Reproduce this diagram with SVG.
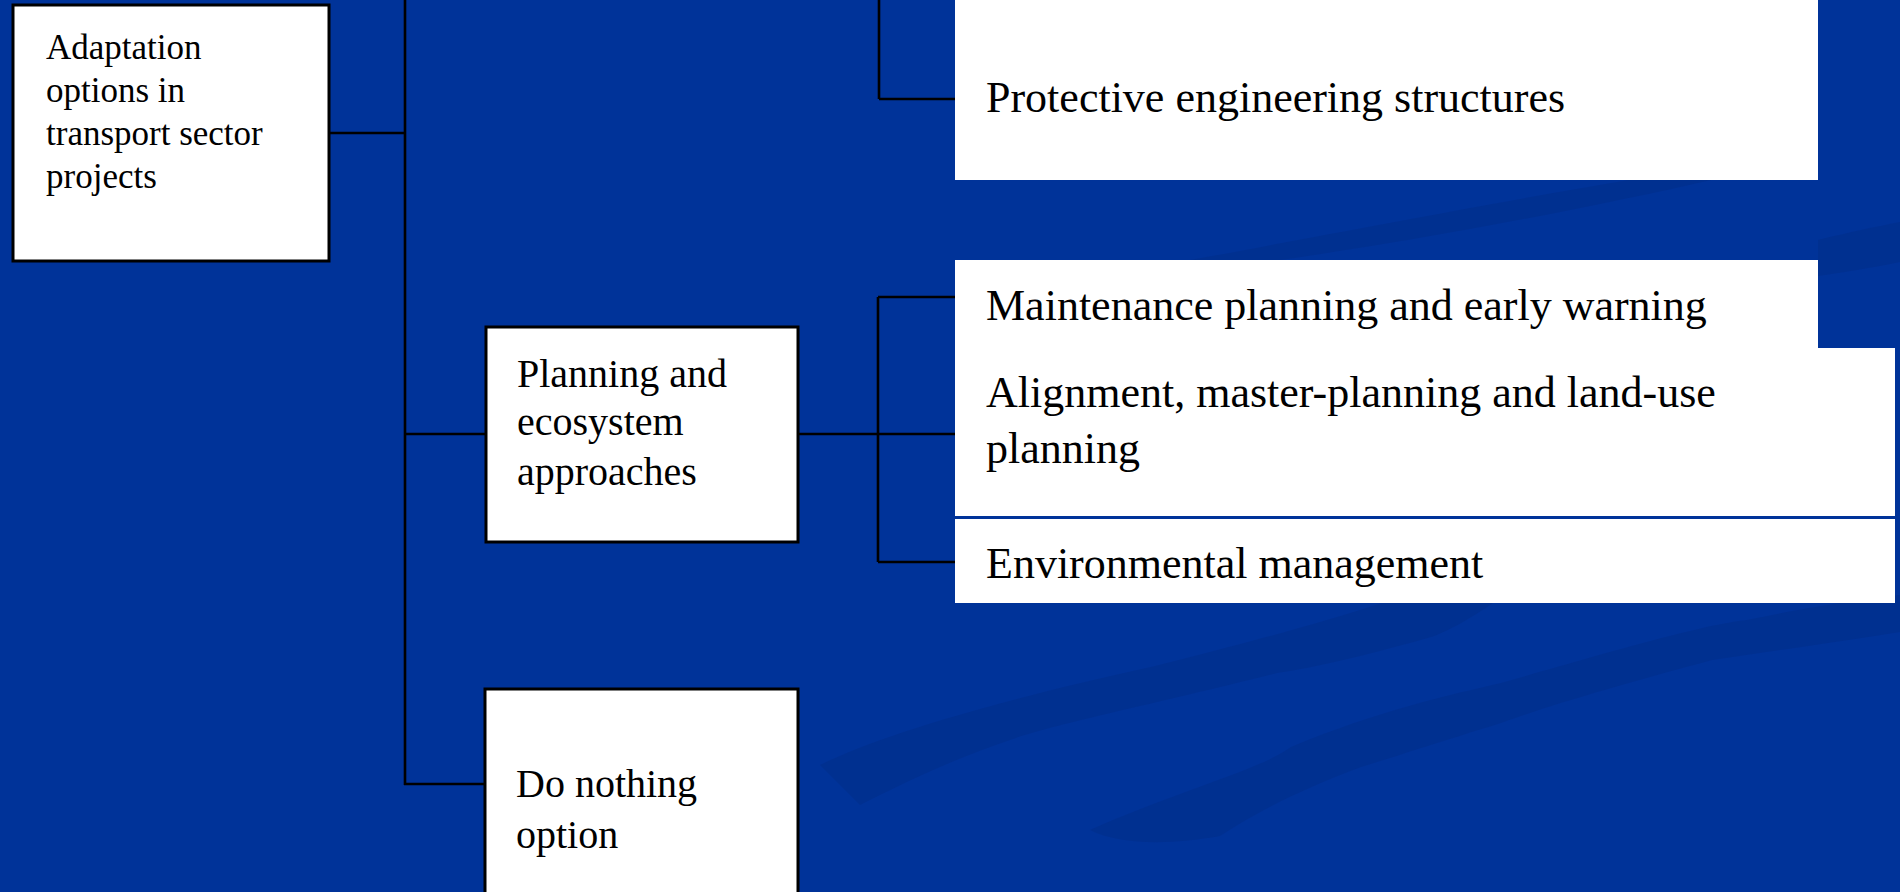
<svg xmlns="http://www.w3.org/2000/svg" width="1900" height="892" viewBox="0 0 1900 892">
<style>
.box{fill:#ffffff;stroke:#000000;stroke-width:3}
.plain{fill:#ffffff;stroke:none}
.t35{font-family:"Liberation Serif","Times New Roman",serif;font-size:35px;fill:#000000}
.t40{font-family:"Liberation Serif","Times New Roman",serif;font-size:40px;fill:#000000}
.t44{font-family:"Liberation Serif","Times New Roman",serif;font-size:44px;fill:#000000}
.conn{stroke:#000000;stroke-width:2.6;fill:none}
.streak{fill:#002d88;opacity:0.5}
</style>
<rect x="0" y="0" width="1900" height="892" fill="#003399"/>
<g id="background-streaks">
<path class="streak" d="M820,765 C880,735 1000,700 1151,667 C1260,640 1350,615 1420,590 L1510,590 C1480,615 1440,635 1431,637 C1350,660 1300,670 1277,673 C1150,705 1050,725 1010,740 C950,760 900,785 860,805 Z"/>
<path class="streak" d="M1090,830 C1180,790 1260,770 1291,747 C1380,710 1450,695 1501,683 C1600,655 1700,625 1747,620 C1820,605 1870,598 1900,595 L1900,632 C1850,640 1780,650 1712,660 C1620,685 1550,705 1501,723 C1430,745 1400,755 1361,767 C1300,790 1260,810 1220,836 C1170,845 1120,845 1090,830 Z"/>
<path class="streak" d="M1180,262 C1300,240 1480,205 1640,178 L1720,178 C1560,215 1360,250 1250,264 Z"/>
<path class="streak" d="M1818,240 C1850,232 1880,226 1900,222 L1900,262 C1870,268 1845,272 1818,276 Z"/>
</g>
<g id="connectors">
<line class="conn" x1="405" y1="0" x2="405" y2="785"/>
<line class="conn" x1="329" y1="133" x2="405" y2="133"/>
<line class="conn" x1="405" y1="434" x2="486" y2="434"/>
<line class="conn" x1="404" y1="784" x2="485" y2="784"/>
<line class="conn" x1="879" y1="0" x2="879" y2="99"/>
<line class="conn" x1="879" y1="99" x2="955" y2="99"/>
<line class="conn" x1="798" y1="434" x2="955" y2="434"/>
<line class="conn" x1="878" y1="297" x2="878" y2="562"/>
<line class="conn" x1="878" y1="297" x2="955" y2="297"/>
<line class="conn" x1="878" y1="562" x2="955" y2="562"/>
</g>
<g id="node-adaptation">
<rect class="box" x="13" y="5" width="316" height="256"/>
<text class="t35" x="46" y="59">Adaptation</text>
<text class="t35" x="46" y="102">options in</text>
<text class="t35" x="46" y="145">transport sector</text>
<text class="t35" x="46" y="188">projects</text>
</g>
<g id="node-planning">
<rect class="box" x="486" y="327" width="312" height="215"/>
<text class="t40" x="517" y="387">Planning and</text>
<text class="t40" x="517" y="435">ecosystem</text>
<text class="t40" x="517" y="485">approaches</text>
</g>
<g id="node-donothing">
<rect class="box" x="485" y="689" width="313" height="230"/>
<text class="t40" x="516" y="797">Do nothing</text>
<text class="t40" x="516" y="848">option</text>
</g>
<g id="node-protective">
<rect class="plain" x="955" y="-5" width="863" height="185"/>
<text class="t44" x="986" y="112">Protective engineering structures</text>
</g>
<g id="node-maintenance">
<rect class="plain" x="955" y="260" width="863" height="90"/>
<text class="t44" x="986" y="320">Maintenance planning and early warning</text>
</g>
<g id="node-alignment">
<rect class="plain" x="955" y="348" width="940" height="168"/>
<text class="t44" x="986" y="407">Alignment, master-planning and land-use</text>
<text class="t44" x="986" y="463">planning</text>
</g>
<g id="node-environmental">
<rect class="plain" x="955" y="519" width="940" height="84"/>
<text class="t44" x="986" y="578">Environmental management</text>
</g>
</svg>
